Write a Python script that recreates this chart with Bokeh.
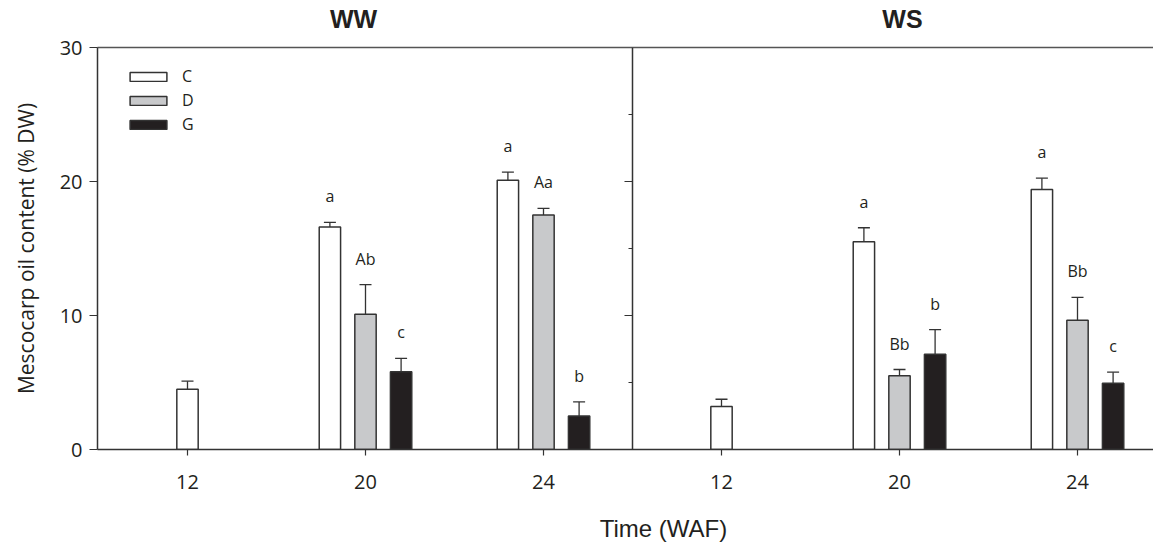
import math
from bokeh.plotting import figure
from bokeh.models import (Range1d, ColumnDataSource, Whisker, TeeHead, Span, LinearAxis,
                          Legend, LegendItem, FixedTicker, SingleIntervalTicker, Ray)
from bokeh.core.properties import value
from bokeh.embed import file_html
from bokeh.resources import INLINE

# ---------------- data ----------------
panels = ["WW", "WS"]
times = ["12", "20", "24"]
treatments = ["C", "D", "G"]

ww_C = [4.5, 16.6, 20.1]
ww_C_se = [0.6, 0.35, 0.6]
ww_D = [None, 10.1, 17.5]
ww_D_se = [None, 2.2, 0.5]
ww_G = [None, 5.8, 2.5]
ww_G_se = [None, 1.0, 1.05]

ws_C = [3.2, 15.5, 19.4]
ws_C_se = [0.55, 1.05, 0.85]
ws_D = [None, 5.5, 9.65]
ws_D_se = [None, 0.47, 1.7]
ws_G = [None, 7.1, 4.95]
ws_G_se = [None, 1.85, 0.82]

ww_C_sig = ["", "a", "a"]
ww_D_sig = ["", "Ab", "Aa"]
ww_G_sig = ["", "c", "b"]
ws_C_sig = ["", "a", "a"]
ws_D_sig = ["", "Bb", "Bb"]
ws_G_sig = ["", "b", "c"]

y_ticks_major = [0, 10, 20, 30]
y_ticks_minor = [5, 15, 25]

x_title = "Time (WAF)"
y_title = "Mescocarp oil content (% DW)"

# ---------------- styling ----------------
INK = "#231f20"
EDGE = "#333333"
fills = {"C": "#ffffff", "D": "#c8c9cb", "G": "#231f20"}
FONT = "Open Sans"
BAR_W = 0.12
OFFSET = 0.2

means = {("WW", "C"): ww_C, ("WW", "D"): ww_D, ("WW", "G"): ww_G,
         ("WS", "C"): ws_C, ("WS", "D"): ws_D, ("WS", "G"): ws_G}
ses = {("WW", "C"): ww_C_se, ("WW", "D"): ww_D_se, ("WW", "G"): ww_G_se,
       ("WS", "C"): ws_C_se, ("WS", "D"): ws_D_se, ("WS", "G"): ws_G_se}
sigs = {("WW", "C"): ww_C_sig, ("WW", "D"): ww_D_sig, ("WW", "G"): ww_G_sig,
        ("WS", "C"): ws_C_sig, ("WS", "D"): ws_D_sig, ("WS", "G"): ws_G_sig}

x0 = 1 - 90 / 178
x1 = x0 + 1056 / 178

p = figure(width=1153, height=545, x_range=Range1d(x0, x1), y_range=Range1d(0, 30),
           output_backend="svg", toolbar_location=None,
           min_border_left=97, min_border_right=0, min_border_top=47, min_border_bottom=96)
p.xgrid.visible = False
p.ygrid.visible = False
p.outline_line_color = None
p.background_fill_color = "white"
p.border_fill_color = "white"
# screen-like range for placing the panel titles and the x-axis title
p.extra_x_ranges["px"] = Range1d(97, 1153)

renderers = {}
for t_i, tr in enumerate(treatments):
    xs, tops, uppers, labs = [], [], [], []
    for p_i, pan in enumerate(panels):
        for i, tm in enumerate(times):
            m = means[(pan, tr)][i]
            if m is None:
                continue
            present = [t for t in treatments if means[(pan, t)][i] is not None]
            base = 1 + 3 * p_i + i
            off = 0 if len(present) == 1 else (t_i - 1) * OFFSET
            xs.append(base + off)
            tops.append(m)
            uppers.append(m + ses[(pan, tr)][i])
            labs.append(sigs[(pan, tr)][i])
    src = ColumnDataSource(dict(x=xs, top=tops, upper=uppers, lab=labs))
    w = Whisker(source=src, base="x", lower="top", upper="upper", dimension="height",
                line_color=EDGE, line_width=1.3,
                upper_head=TeeHead(size=12, line_color=EDGE, line_width=1.3), lower_head=None)
    p.add_layout(w)
    r = p.vbar(x="x", top="top", bottom=0, width=BAR_W, source=src,
               fill_color=fills[tr], line_color=EDGE, line_width=1.5)
    renderers[tr] = r
    p.text(x="x", y="upper", text="lab", source=src, text_font=value(FONT),
           text_font_size="16px", text_color=INK, text_align="center",
           text_baseline="middle", y_offset=-26)

# axes
p.yaxis.ticker = SingleIntervalTicker(interval=10, num_minor_ticks=2)
p.yaxis.major_tick_out = 8
p.yaxis.major_tick_in = 0
p.yaxis.minor_tick_out = 4
p.yaxis.minor_tick_in = 0
p.yaxis.axis_label = y_title
p.yaxis.axis_label_text_font = FONT
p.yaxis.axis_label_text_font_size = "21px"
p.yaxis.axis_label_text_font_style = "normal"
p.yaxis.axis_label_text_color = INK
p.yaxis.axis_label_standoff = 17
p.yaxis.major_label_standoff = 7

p.xaxis.ticker = FixedTicker(ticks=[1, 2, 3, 4, 5, 6])
p.xaxis.major_label_overrides = {1: times[0], 2: times[1], 3: times[2],
                                 4: times[0], 5: times[1], 6: times[2]}
p.xaxis.major_tick_out = 6
p.xaxis.major_tick_in = 0
p.xaxis.minor_tick_line_color = None
p.xaxis.major_label_standoff = 19

for ax in (p.xaxis, p.yaxis):
    ax.axis_line_color = EDGE
    ax.axis_line_width = 1.5
    ax.major_tick_line_color = EDGE
    ax.major_tick_line_width = 1.2
    ax.minor_tick_line_color = EDGE if ax is p.yaxis else None
    ax.minor_tick_line_width = 1.2
    ax.major_label_text_font = FONT
    ax.major_label_text_font_size = "20px"
    ax.major_label_text_color = INK

# x-axis title as a second, line-less axis below
title_x = LinearAxis(x_range_name="px", ticker=FixedTicker(ticks=[663]),
                     major_label_overrides={663: x_title},
                     axis_line_color=None, major_tick_line_color=None, minor_tick_line_color=None,
                     major_label_standoff=17, major_label_text_font="Liberation Sans",
                     major_label_text_font_size="24px", major_label_text_color=INK)
p.add_layout(title_x, "below")

# top border with panel titles
top_ax = LinearAxis(x_range_name="px", ticker=FixedTicker(ticks=[353, 902]),
                    major_label_overrides={353: panels[0], 902: panels[1]},
                    axis_line_color="#555555", axis_line_width=1.5,
                    major_tick_line_color=None, minor_tick_line_color=None,
                    major_label_standoff=9, major_label_text_font="Liberation Sans",
                    major_label_text_font_size="25px", major_label_text_font_style="bold",
                    major_label_text_color=INK)
p.add_layout(top_ax, "above")

# panel divider (the WS panel's y axis)
p.add_layout(Span(location=3.5, dimension="height", line_color=EDGE, line_width=1.5))
div_src_major = ColumnDataSource(dict(x=[3.5] * len(y_ticks_major[1:-1]), y=y_ticks_major[1:-1]))
div_src_minor = ColumnDataSource(dict(x=[3.5] * len(y_ticks_minor), y=y_ticks_minor))
p.add_glyph(div_src_major, Ray(x="x", y="y", length=8, length_units="screen", angle=math.pi,
                               line_color=EDGE, line_width=1.2))
p.add_glyph(div_src_minor, Ray(x="x", y="y", length=4, length_units="screen", angle=math.pi,
                               line_color=EDGE, line_width=1.2))

# legend
legend = Legend(items=[LegendItem(label=tr, renderers=[renderers[tr]]) for tr in treatments],
                location=(28, 314), orientation="vertical",
                glyph_width=46, glyph_height=11, label_height=22, spacing=2,
                padding=0, margin=0, label_standoff=11,
                label_text_font=FONT, label_text_font_size="16px", label_text_color=INK,
                border_line_color=None, background_fill_alpha=0)
p.add_layout(legend)

open("out.html", "w").write(file_html(p, INLINE))
